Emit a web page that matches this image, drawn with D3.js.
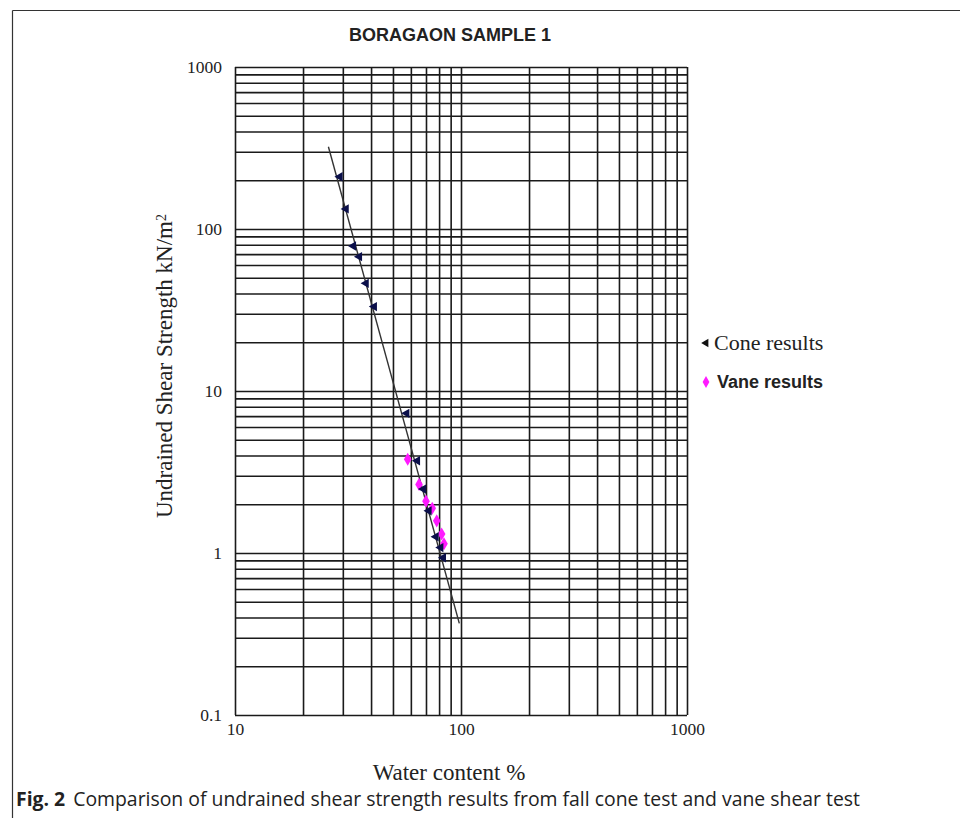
<!DOCTYPE html>
<html>
<head>
<meta charset="utf-8">
<script src="https://cdn.jsdelivr.net/npm/d3@7"></script>
<style>
    body { margin: 0; background: #fff; }
    svg { display: block; }
</style>
</head>
<body>
<svg id="chart"></svg>
<script>
// Data
const coneWater = [29.1, 31.0, 33.4, 35.5, 38.0, 41.3, 57.5, 64.1, 68.1, 72.1, 77.5, 81.3, 83.5];
const coneStrength = [210, 133, 78.5, 67.5, 46.2, 33.2, 7.28, 3.71, 2.48, 1.82, 1.26, 1.08, 0.935];
const vaneWater = [58.1, 65.2, 70.0, 74.6, 78.1, 82.1, 84.1];
const vaneStrength = [3.79, 2.65, 2.09, 1.89, 1.58, 1.31, 1.14];
const trendWater = [25.9, 98.3];
const trendStrength = [322, 0.368];
const xTickValues = [10, 100, 1000];
const yTickValues = [0.1, 1, 10, 100, 1000];

const config = {
    width: 960,
    height: 818,
    left: 235,
    right: 687,
    top: 67,
    bottom: 715
};

const serif = "'Liberation Serif', 'DejaVu Serif', serif";

const svg = d3.select("#chart")
    .attr("width", config.width)
    .attr("height", config.height);

// figure frame (top and left rules)
svg.append("line")
    .attr("x1", 12.5).attr("x2", 960)
    .attr("y1", 10.5).attr("y2", 10.5)
    .attr("stroke", "#333").attr("stroke-width", 1.2);
svg.append("line")
    .attr("x1", 12.5).attr("x2", 12.5)
    .attr("y1", 10.5).attr("y2", 818)
    .attr("stroke", "#333").attr("stroke-width", 1.2);

const xScale = d3.scaleLog().domain([10, 1000]).range([config.left, config.right]);
const yScale = d3.scaleLog().domain([0.1, 1000]).range([config.bottom, config.top]);

// Grid lines
const grid = svg.append("g").attr("class", "grid");

grid.append("g")
    .attr("transform", `translate(0,${config.bottom})`)
    .call(d3.axisBottom(xScale)
        .tickValues(xScale.ticks())
        .tickSize(-(config.bottom - config.top))
        .tickFormat(""))
    .call(g => g.select(".domain").remove());

grid.append("g")
    .attr("transform", `translate(${config.left},0)`)
    .call(d3.axisLeft(yScale)
        .tickValues(yScale.ticks())
        .tickSize(-(config.right - config.left))
        .tickFormat(""))
    .call(g => g.select(".domain").remove());

grid.selectAll("line")
    .attr("stroke", "#1a1a1a")
    .attr("stroke-width", 1.6);

// Tick labels
const xAxisG = svg.append("g")
    .attr("transform", `translate(0,${config.bottom + 5})`)
    .call(d3.axisBottom(xScale).tickValues(xTickValues).tickSize(0).tickFormat(d3.format("d")));
const yAxisG = svg.append("g")
    .attr("transform", `translate(${config.left - 10},0)`)
    .call(d3.axisLeft(yScale).tickValues(yTickValues).tickSize(0).tickFormat(d => d < 1 ? "0.1" : d3.format("d")(d)));

[xAxisG, yAxisG].forEach(g => {
    g.select(".domain").remove();
    g.selectAll("text")
        .attr("fill", "#222")
        .style("font-family", serif)
        .style("font-size", "17.5px");
});

// trend line
svg.append("path")
    .datum(d3.zip(trendWater, trendStrength))
    .attr("fill", "none")
    .attr("stroke", "#333")
    .attr("stroke-width", 1.4)
    .attr("d", d3.line().x(d => xScale(d[0])).y(d => yScale(d[1])));

// Vane results
const vaneData = d3.zip(vaneWater, vaneStrength);
svg.append("g").selectAll("path")
    .data(vaneData)
    .join("path")
    .attr("transform", d => `translate(${xScale(d[0])},${yScale(d[1])})`)
    .attr("d", d3.symbol().type(d3.symbolDiamond).size(50))
    .attr("fill", "#ff1aff");

// Cone results
const coneData = d3.zip(coneWater, coneStrength);
svg.append("g").selectAll("path")
    .data(coneData)
    .join("path")
    .attr("transform", d => `translate(${xScale(d[0])},${yScale(d[1])}) rotate(-90)`)
    .attr("d", d3.symbol().type(d3.symbolTriangle).size(38))
    .attr("fill", "#0b0f4a");

// Title
svg.append("text")
    .attr("x", 450)
    .attr("y", 41)
    .attr("text-anchor", "middle")
    .style("font-family", "'Liberation Sans', Arial, sans-serif")
    .style("font-weight", "bold")
    .style("font-size", "18px")
    .attr("fill", "#222")
    .text("BORAGAON SAMPLE 1");

// Axis titles
svg.append("text")
    .attr("x", 449)
    .attr("y", 780)
    .attr("text-anchor", "middle")
    .style("font-family", serif)
    .style("font-size", "23px")
    .attr("fill", "#222")
    .text("Water content %");

const yTitle = svg.append("text")
    .attr("transform", "translate(172,366) rotate(-90)")
    .attr("text-anchor", "middle")
    .style("font-family", serif)
    .style("font-size", "23px")
    .attr("fill", "#222");
yTitle.append("tspan").text("Undrained Shear Strength kN/m");
yTitle.append("tspan").attr("dy", "-0.45em").style("font-size", "14px").text("2");

// Legend
const legend = svg.append("g").attr("class", "legend");
legend.append("path")
    .attr("transform", "translate(706,343) rotate(-90)")
    .attr("d", d3.symbol().type(d3.symbolTriangle).size(30))
    .attr("fill", "#111");
legend.append("text")
    .attr("x", 714)
    .attr("y", 350)
    .style("font-family", serif)
    .style("font-size", "22px")
    .attr("fill", "#222")
    .text("Cone results");
legend.append("path")
    .attr("transform", "translate(706,382)")
    .attr("d", d3.symbol().type(d3.symbolDiamond).size(40))
    .attr("fill", "#ff1aff");
legend.append("text")
    .attr("x", 717)
    .attr("y", 388)
    .style("font-family", "'Liberation Sans', Arial, sans-serif")
    .style("font-weight", "bold")
    .style("font-size", "18px")
    .attr("fill", "#222")
    .text("Vane results");

// Caption
const caption = svg.append("text")
    .attr("x", 16)
    .attr("y", 806)
    .style("font-family", "'Open Sans', 'Noto Sans', sans-serif")
    .style("font-size", "19.4px")
    .attr("fill", "#222");
caption.append("tspan").style("font-weight", "bold").text("Fig. 2");
caption.append("tspan").attr("dx", "8").text("Comparison of undrained shear strength results from fall cone test and vane shear test");
</script>
</body>
</html>
